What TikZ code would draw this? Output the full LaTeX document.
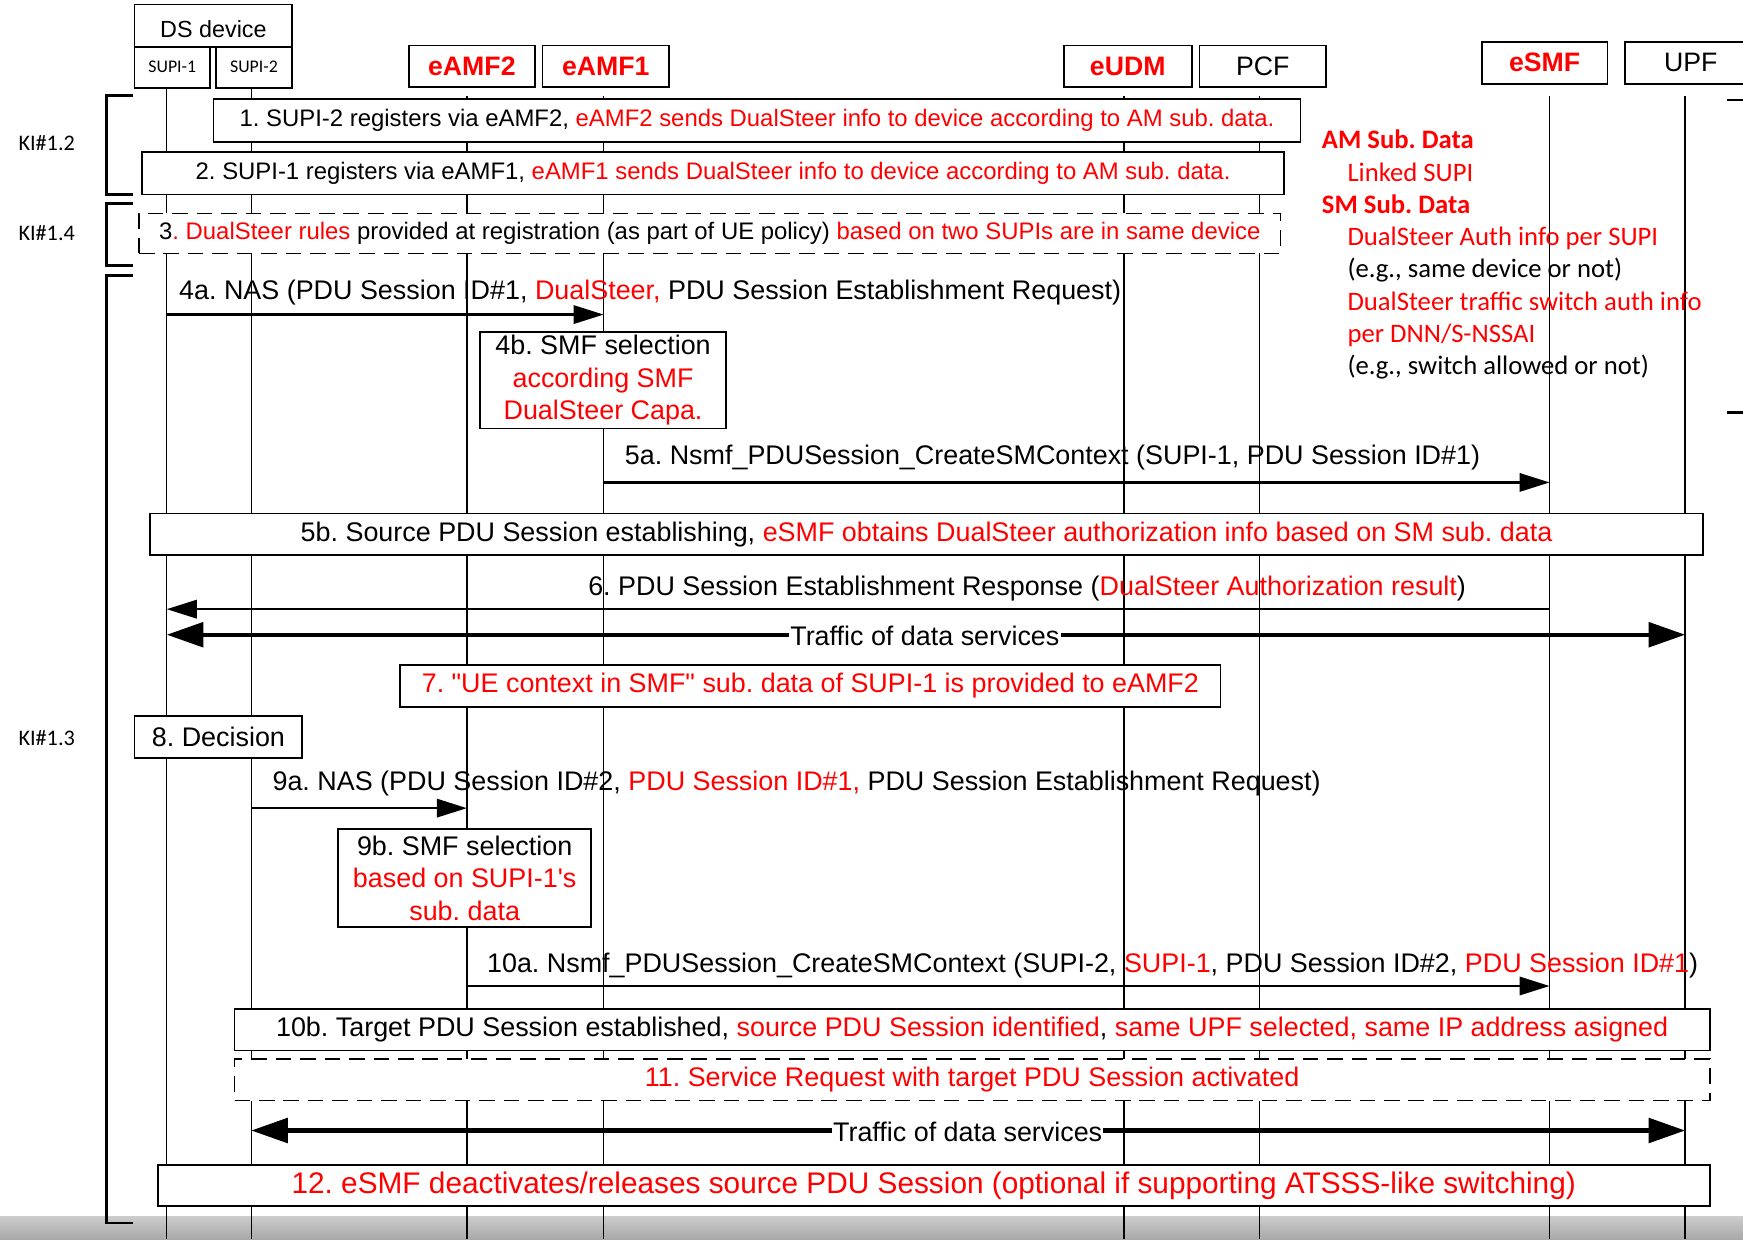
\documentclass[tikz,border=0pt]{standalone}
\usepackage{fontspec}
\setmainfont{Liberation Sans}[Ligatures=TeXOff]
\newfontfamily\calib{Carlito}
\usetikzlibrary{arrows.meta}
\frenchspacing

\tikzset{
  lifeline/.style={line width=1.3pt},
  stepbox/.style={draw,line width=1.6pt,fill=white,inner sep=0pt,align=center,font=\fontsize{24.2}{29}\selectfont},
  regbox/.style={stepbox,font=\fontsize{21.5}{26}\selectfont},
  dashbox/.style={stepbox,dash pattern=on 14pt off 8pt},
  headbox/.style={draw,line width=1.6pt,fill=white,inner sep=0pt,font=\fontsize{24}{29}\selectfont},
  nfbox/.style={headbox,text=red,font=\fontsize{24}{29}\selectfont\bfseries},
  supibox/.style={headbox,font=\calib\fontsize{16}{19}\selectfont},
  msg/.style={line width=2pt,-{Triangle[length=27pt,width=16.5pt]}},
  traffic/.style={line width=4pt,{Triangle[length=33pt,width=22pt]}-{Triangle[length=33pt,width=22pt]}},
  msglabel/.style={anchor=base west,inner sep=0pt,font=\fontsize{24.2}{29}\selectfont},
  kilabel/.style={font=\calib\fontsize{20}{24}\selectfont},
  bracket/.style={line width=2.2pt},
}

\begin{document}
\begin{tikzpicture}[x=1pt,y=-1pt]
\useasboundingbox (0,0) rectangle (1568,1115);
\clip (0,0) rectangle (1568,1115);

% grey strip at the bottom
\fill[top color=gray!40,bottom color=gray!68] (0,1094) rectangle (1568,1115);

% lifelines
\foreach \n/\x/\y in {l1/150/79,l2/226/79,l3/420/86,l4/543/86,l5/1011/86,l6/1133/86,l7/1394/86,l8/1516/86} {
  \coordinate (\n) at (\x,\y);
  \draw[lifeline] (\n) -- (\x,1115);
}

% heads
\node[headbox,minimum width=142pt,minimum height=38pt,font=\fontsize{21}{25}\selectfont] (ds) at (192,23) {\raisebox{-3pt}[\height][\depth]{DS device}};
\node[supibox,minimum width=68pt,minimum height=37pt] (supi1) at (155,60.5) {SUPI-1};
\node[supibox,minimum width=69pt,minimum height=37pt] (supi2) at (228.5,60.5) {SUPI-2};
\node[nfbox,minimum width=113pt,minimum height=37pt] (amf2) at (424.5,59.5) {eAMF2};
\node[nfbox,minimum width=114pt,minimum height=37pt] (amf1) at (545,59.5) {eAMF1};
\node[nfbox,minimum width=115pt,minimum height=37pt] (udm) at (1014.5,59.5) {eUDM};
\node[headbox,minimum width=114pt,minimum height=37pt] (pcf) at (1136,59.5) {PCF};
\node[nfbox,minimum width=113pt,minimum height=38pt] (smf) at (1389.5,56.5) {eSMF};
\node[headbox,minimum width=118pt,minimum height=38pt] (upf) at (1521,56.5) {UPF};

% KI brackets
\draw[bracket] (120,86) -- (96,86) -- (96,175) -- (120,175);
\draw[bracket] (120,183) -- (96,183) -- (96,239) -- (120,239);
\draw[bracket] (120,248) -- (96,248) -- (96,1100) -- (120,1100);
\draw[bracket] (1554,90) -- (1568,90);
\draw[bracket] (1554,371) -- (1568,371);
\node[kilabel] (ki12) at (42,129) {KI\#1.2};
\node[kilabel] (ki14) at (42,210) {KI\#1.4};
\node[kilabel] (ki13) at (42,664) {KI\#1.3};

% subscription data
\node[anchor=north west,inner sep=0pt,align=left,font=\calib\fontsize{24}{29}\selectfont] (subdata) at (1189,117) {%
  \textcolor{red}{\bfseries AM Sub. Data}\\
  \hspace*{23pt}\textcolor{red}{Linked SUPI}\\
  \textcolor{red}{\bfseries SM Sub. Data}\\
  \hspace*{23pt}\textcolor{red}{DualSteer Auth info per SUPI}\\
  \hspace*{23pt}(e.g., same device or not)\\
  \hspace*{23pt}\textcolor{red}{DualSteer traffic switch auth info}\\
  \hspace*{23pt}\textcolor{red}{per DNN/S-NSSAI}\\
  \hspace*{23pt}(e.g., switch allowed or not)};

% steps 1-3
\node[regbox,minimum width=978pt,minimum height=39pt] (s1) at (681,108.5) {1. SUPI-2 registers via eAMF2, \textcolor{red}{eAMF2 sends DualSteer info to device according to AM sub. data.}};
\node[regbox,minimum width=1027pt,minimum height=38pt] (s2) at (641.5,156) {2. SUPI-1 registers via eAMF1, \textcolor{red}{eAMF1 sends DualSteer info to device according to AM sub. data.}};
\node[regbox,dash pattern=on 14pt off 8pt,minimum width=1027pt,minimum height=36pt] (s3) at (638.5,210) {3\textcolor{red}{. DualSteer rules} provided at registration (as part of UE policy) \textcolor{red}{based on two SUPIs are in same device}};

% 4a, 4b
\path (0,283) coordinate (y4a);
\draw[msg] (l1 |- y4a) -- (l4 |- y4a);
\node[msglabel] (t4a) at (161,269) {4a. NAS (PDU Session ID\#1, \textcolor{red}{DualSteer,} PDU Session Establishment Request)};
\node[stepbox,minimum width=221pt,minimum height=87pt] (s4b) at (542.5,342) {4b. SMF selection\\\textcolor{red}{according SMF}\\\textcolor{red}{DualSteer Capa.}};

% 5a, 5b, 6
\path (0,434) coordinate (y5a);
\draw[msg] (l4 |- y5a) -- (l7 |- y5a);
\node[msglabel] (t5a) at (562,418) {5a. Nsmf\_PDUSession\_CreateSMContext (SUPI-1, PDU Session ID\#1)};
\node[stepbox,minimum width=1397pt,minimum height=37pt] (s5b) at (833.5,480.5) {5b. Source PDU Session establishing, \textcolor{red}{eSMF obtains DualSteer authorization info based on SM sub. data}};
\path (0,548) coordinate (y6);
\draw[msg] (l7 |- y6) -- (l1 |- y6);
\node[msglabel] (t6) at (529,536) {6. PDU Session Establishment Response (\textcolor{red}{DualSteer Authorization result})};

% traffic
\path (0,571) coordinate (yt1);
\draw[traffic] (l1 |- yt1) -- (l8 |- yt1);
\node[fill=white,inner sep=1pt,font=\fontsize{24.2}{29}\selectfont] (tr1) at (832,572) {Traffic of data services};

% 7, 8, 9
\node[stepbox,minimum width=738pt,minimum height=38pt,text=red] (s7) at (729,617) {7. "UE context in SMF" sub. data of SUPI-1 is provided to eAMF2};
\node[stepbox,minimum width=151pt,minimum height=38pt] (s8) at (196.5,663) {8. Decision};
\path (0,727) coordinate (y9a);
\draw[msg] (l2 |- y9a) -- (l3 |- y9a);
\node[msglabel] (t9a) at (245,711) {9a. NAS (PDU Session ID\#2, \textcolor{red}{PDU Session ID\#1,} PDU Session Establishment Request)};
\node[stepbox,minimum width=228pt,minimum height=88pt] (s9b) at (418,790) {9b. SMF selection\\\textcolor{red}{based on SUPI-1's}\\\textcolor{red}{sub. data}};

% 10, 11
\path (0,887) coordinate (y10a);
\draw[msg] (l3 |- y10a) -- (l7 |- y10a);
\node[msglabel] (t10a) at (438,875) {10a. Nsmf\_PDUSession\_CreateSMContext (SUPI-2, \textcolor{red}{SUPI-1}, PDU Session ID\#2, \textcolor{red}{PDU Session ID\#1})};
\node[stepbox,minimum width=1327pt,minimum height=37pt] (s10b) at (874.5,926.5) {10b. Target PDU Session established, \textcolor{red}{source PDU Session identified}, \textcolor{red}{same UPF selected, same IP address asigned}};
\node[dashbox,minimum width=1327pt,minimum height=37pt,text=red] (s11) at (874.5,971.5) {11. Service Request with target PDU Session activated};

% traffic again
\path (0,1017) coordinate (yt2);
\draw[traffic] (l2 |- yt2) -- (l8 |- yt2);
\node[fill=white,inner sep=1pt,font=\fontsize{24.2}{29}\selectfont] (tr2) at (870.5,1018) {Traffic of data services};

% 12
\node[stepbox,minimum width=1396pt,minimum height=37pt,text=red,font=\fontsize{26.8}{31}\selectfont] (s12) at (840,1066.5) {12. eSMF deactivates/releases source PDU Session (optional if supporting ATSSS-like switching)};
\end{tikzpicture}
\end{document}
